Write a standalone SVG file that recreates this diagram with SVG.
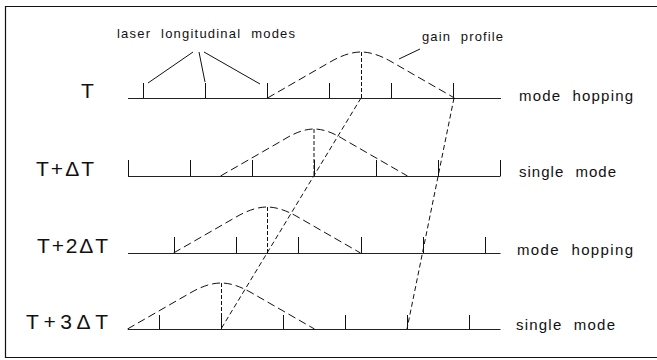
<svg xmlns="http://www.w3.org/2000/svg" width="657" height="360" viewBox="0 0 657 360">
<style>
.ax{stroke:#222;stroke-width:1.2;fill:none}
.tk{stroke:#111;stroke-width:1;fill:none}
.gain{stroke:#111;stroke-width:1;fill:none;stroke-dasharray:8 4}
.pk{stroke:#111;stroke-width:1;fill:none;stroke-dasharray:4 2}
.cr{stroke:#111;stroke-width:1;fill:none;stroke-dasharray:5 3}
.ld{stroke:#111;stroke-width:1;fill:none}
.big{font-family:"Liberation Sans",Arial,sans-serif;font-size:21px;fill:#111}
.lab{font-family:"Liberation Sans",Arial,sans-serif;font-size:15px;fill:#111;word-spacing:6px}
.sm{font-family:"Liberation Sans",Arial,sans-serif;font-size:13px;fill:#111;word-spacing:5px}
</style>
<rect width="657" height="360" fill="#fff"/>
<path d="M657,6.5 H5.5 V357.5 H657" stroke="#111" stroke-width="1.2" fill="none"/>

<g id="annotations">
<text class="sm" x="117" y="38" textLength="178" lengthAdjust="spacing">laser longitudinal modes</text>
<line class="ld" x1="148" y1="83" x2="193" y2="52"/>
<line class="ld" x1="199" y1="52" x2="205" y2="82"/>
<line class="ld" x1="204" y1="52" x2="260" y2="84"/>
<text class="sm" x="422" y="41" textLength="81" lengthAdjust="spacing">gain profile</text>
<line class="ld" x1="420" y1="49" x2="399" y2="59"/>
</g>

<g id="row-T">
<text class="big" x="81" y="98">T</text>
<line class="ax" x1="128" y1="98.5" x2="501" y2="98.5"/>
<path class="tk" d="M143.5,83V98M205.5,83V98M267.5,83V98M329.5,83V98M391.5,83V98M453.5,83V98"/>
<path class="gain" d="M267.5,98 L331,61.5 Q347.7,52 361,52 Q374.3,52 391,61.5 L454.5,98"/>
<line class="pk" x1="361.5" y1="52" x2="361.5" y2="98"/>
<text class="lab" x="519" y="101" textLength="114" lengthAdjust="spacing">mode hopping</text>
</g>

<g id="row-T-dT">
<text class="big" x="36" y="176" textLength="58" lengthAdjust="spacing">T+ΔT</text>
<line class="ax" x1="128" y1="176.5" x2="500.5" y2="176.5"/>
<path class="tk" d="M128.5,160V176M190.5,160V176M252.5,160V176M314.5,160V176M376.5,160V176M438.5,160V176M500.5,160V176"/>
<path class="gain" d="M220.5,176 L284,139.5 Q300.7,129 314,129 Q327.3,129 344,139.5 L407.5,176"/>
<line class="pk" x1="314" y1="129" x2="314" y2="176"/>
<text class="lab" x="519" y="177" textLength="97" lengthAdjust="spacing">single mode</text>
</g>

<g id="row-T-2dT">
<text class="big" x="37" y="253" textLength="71" lengthAdjust="spacing">T+2ΔT</text>
<line class="ax" x1="128" y1="253.5" x2="500.5" y2="253.5"/>
<path class="tk" d="M174.5,237V253M236.5,237V253M298.5,237V253M361.5,237V253M423.5,237V253M485.5,237V253"/>
<path class="gain" d="M173.5,253 L237,216.5 Q253.7,207 267,207 Q280.3,207 297,216.5 L360.5,253"/>
<line class="pk" x1="267.5" y1="207" x2="267.5" y2="253"/>
<text class="lab" x="517" y="255" textLength="116" lengthAdjust="spacing">mode hopping</text>
</g>

<g id="row-T-3dT">
<text class="big" x="26" y="329" textLength="82" lengthAdjust="spacing">T+3ΔT</text>
<line class="ax" x1="128" y1="329.5" x2="500.5" y2="329.5"/>
<path class="tk" d="M159.5,315V329M221.5,315V329M283.5,315V329M345.5,315V329M407.5,315V329M469.5,315V329"/>
<path class="gain" d="M127.5,329 L191,292.5 Q207.7,283 221,283 Q234.3,283 251,292.5 L314.5,329"/>
<line class="pk" x1="221.5" y1="283" x2="221.5" y2="329"/>
<text class="lab" x="516" y="330" textLength="99" lengthAdjust="spacing">single mode</text>
</g>

<g id="connectors">
<line class="cr" x1="361" y1="98" x2="221" y2="329"/>
<line class="cr" x1="454" y1="98" x2="407" y2="329"/>
</g>
</svg>
